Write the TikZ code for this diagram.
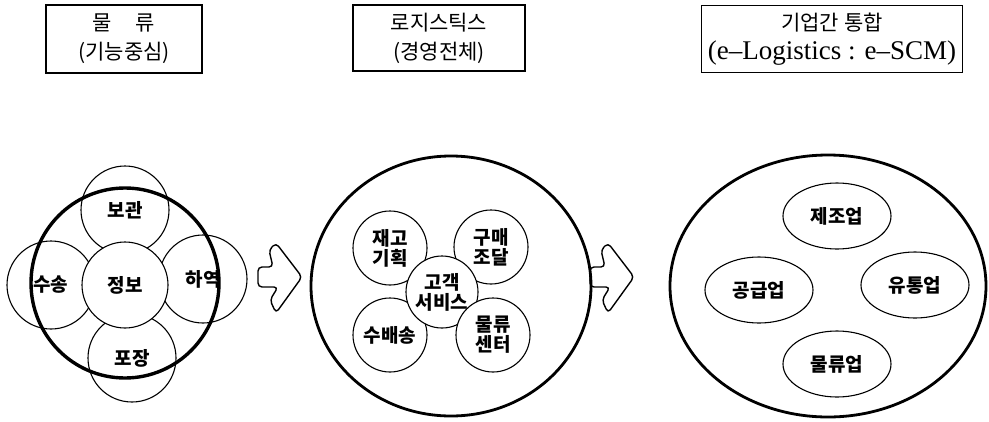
\documentclass[tikz,border=0pt]{standalone}
\usepackage{fontspec}
\setmainfont{Noto Sans CJK KR}
\newfontfamily\titlelatin{Liberation Serif}
\usetikzlibrary{shapes.geometric}

\begin{document}
\begin{tikzpicture}[x=1pt,y=-1pt,
    hollowarrow/.pic={
      \draw[line width=1.4pt,rounded corners=4pt,line join=round]
        (0,-10) -- (15,-10) -- (11,-27) -- (18,-34) -- (44,0) -- (18,36) -- (12,23) -- (20,10) -- (0,10) -- cycle;
    }]
    \tikzstyle{title}=[shape=rectangle,draw,line width=1.1pt,align=center,inner sep=0pt,font=\fontsize{21}{29}\selectfont]
    \tikzstyle{petal}=[shape=circle,draw,fill=white,line width=1.1pt,minimum size=88pt,inner sep=0pt,font=\bfseries\fontsize{19}{21}\selectfont]
    \tikzstyle{hub}=[petal,minimum size=86pt]
    \tikzstyle{ring}=[shape=ellipse,draw,line width=2.8pt,inner sep=0pt]
    \tikzstyle{part}=[shape=circle,draw,fill=white,line width=1.1pt,minimum size=74pt,inner sep=0pt,align=center,font=\bfseries\fontsize{19}{20}\selectfont]
    \tikzstyle{firm}=[shape=ellipse,draw,line width=1.1pt,minimum width=108pt,minimum height=66pt,inner sep=0pt,font=\bfseries\fontsize{19}{21}\selectfont]

    \useasboundingbox (0,0) rectangle (989,421);

    % titles
    \node[title,minimum width=156pt,minimum height=68pt] (T1) at (124,39) {물\hspace{24pt}류\\(기능중심)};
    \node[title,minimum width=172pt,minimum height=66pt] (T2) at (439,38) {로지스틱스\\(경영전체)};
    \node[title,minimum width=261pt,minimum height=67pt] (T3) at (832,39) {기업간 통합\\{\titlelatin\fontsize{27}{29}\selectfont (e–Logistics : e–SCM)}};

    % function centred logistics
    \coordinate (a0) at (125,285);
    \node[petal] (A1) at ([yshift=75pt]a0) {보관};
    \node[petal] (A2) at ([xshift=-74pt]a0) {수송};
    \node[petal] (A3) at ([xshift=78pt,yshift=6pt]a0) {하역};
    \node[petal] (A4) at ([xshift=7pt,yshift=-73pt]a0) {포장};
    \node[hub] (A0) at (a0) {정보};
    \node[ring, line width=3.4pt, minimum width=188pt, minimum height=190pt] (AR) at (125,283) {};

    \pic at (258,277) {hollowarrow};

    % whole management
    \node[ring, minimum width=280pt, minimum height=260pt] (BR) at (451,286) {};
    \coordinate (b0) at (442,292);
    \node[part] (B1) at ([xshift=-52pt,yshift=44pt]b0) {재고\\기획};
    \node[part] (B2) at ([xshift=49pt,yshift=45pt]b0) {구매\\조달};
    \node[part] (B3) at ([xshift=-52pt,yshift=-43pt]b0) {수배송};
    \node[part, minimum size=72pt] (B0) at (b0) {고객\\서비스};
    \node[part] (B4) at ([xshift=51pt,yshift=-43pt]b0) {물류\\센터};

    \pic at (590,277) {hollowarrow};

    % integration between firms
    \node[ring, minimum width=316pt, minimum height=262pt] (CR) at (828,286) {};
    \coordinate (c0) at (837,290);
    \node[firm] (C1) at ([yshift=74pt]c0) {제조업};
    \node[firm] (C2) at ([xshift=-78pt]c0) {공급업};
    \node[firm] (C3) at ([xshift=78pt,yshift=5pt]c0) {유통업};
    \node[firm] (C4) at ([yshift=-74pt]c0) {물류업};

\end{tikzpicture}
\end{document}
